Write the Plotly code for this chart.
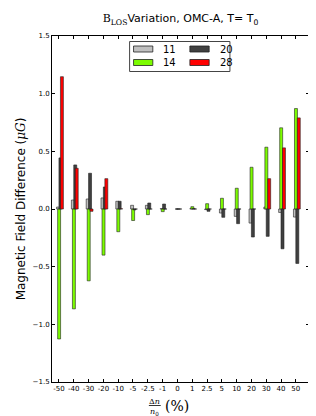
import plotly.graph_objects as go

categories = ['-50', '-40', '-30', '-20', '-10', '-5', '-2.5', '-1', '0',
              '1', '2.5', '5', '10', '20', '30', '40', '50']
series_names = ['11', '14', '20', '28']
s11 = [0.017, 0.078, 0.087, 0.096, 0.067, 0.032, 0.032, 0.003, 0.0,
       0.003, -0.005, -0.035, -0.064, -0.122, 0.017, -0.030, -0.070]
s14 = [-1.127, -0.866, -0.623, -0.400, -0.197, -0.100, -0.049, -0.023, 0.0,
       0.020, 0.046, 0.093, 0.180, 0.362, 0.536, 0.704, 0.871]
s20 = [0.443, 0.382, 0.310, 0.191, 0.067, -0.008, 0.052, 0.043, 0.0,
       0.003, -0.020, -0.072, -0.127, -0.243, -0.237, -0.345, -0.472]
s28 = [1.147, 0.353, -0.020, 0.263, 0.002, 0.0, 0.0, 0.0, 0.0,
       0.0, 0.0, 0.0, 0.0, 0.0, 0.263, 0.530, 0.790]
y_ticks = [-1.5, -1.0, -0.5, 0.0, 0.5, 1.0, 1.5]

values = [s11, s14, s20, s28]
colors = ['#c0c0c0', '#7cfc00', '#404040', '#ff0000']
offsets = [-0.16, -0.09, 0.0, 0.10]
bar_w = 0.2

W, H = 316, 416
ML, MR, MT, MB = 41, 15, 28, 42
PW, PH = W - ML - MR, H - MT - MB


def px(x):
    return (x - ML) / PW


def py(y):
    return (H - MB - y) / PH


fig = go.Figure()
for name, vals, col, off in zip(series_names, values, colors, offsets):
    fig.add_trace(go.Bar(
        x=categories, y=vals, name=name,
        marker=dict(color=col, line=dict(color='#222222', width=0.6)),
        offset=off, width=bar_w, showlegend=False,
    ))

shapes = []
annotations = []
# legend box
shapes.append(dict(type='rect', xref='paper', yref='paper',
                   x0=px(119.5), x1=px(221), y0=py(63.5), y1=py(33.5),
                   line=dict(color='#444444', width=1), fillcolor='white'))
leg_pos = [(123.5, 41), (123.5, 54.5), (180.5, 41), (180.5, 54.5)]
for name, col, (lx, ly) in zip(series_names, colors, leg_pos):
    shapes.append(dict(type='rect', xref='paper', yref='paper',
                       x0=px(lx), x1=px(lx + 19.5), y0=py(ly + 3), y1=py(ly - 3),
                       line=dict(color='#222222', width=0.8), fillcolor=col))
    annotations.append(dict(text=name, xref='paper', yref='paper',
                            x=px(lx + 28), y=py(ly), xanchor='left', yanchor='middle',
                            showarrow=False, font=dict(size=10, color='black')))

# x axis label: fraction  Δn / n0 (%)
serif = 'DejaVu Serif'
annotations.append(dict(text='Δ<i>n</i><br><i>n</i><sub>0</sub>', xref='paper', yref='paper',
                        x=px(145), y=py(398.5), xanchor='center', yanchor='middle',
                        showarrow=False, borderpad=0, align='center',
                        font=dict(size=8, family=serif, color='black')))
shapes.append(dict(type='line', xref='paper', yref='paper',
                   x0=px(139), x1=px(151), y0=py(397.5), y1=py(397.5),
                   line=dict(color='black', width=0.8)))
annotations.append(dict(text='(%)', xref='paper', yref='paper',
                        x=px(154), y=py(397.5), xanchor='left', yanchor='middle',
                        showarrow=False, borderpad=0,
                        font=dict(size=14, family=serif, color='black')))

fig.update_layout(
    width=W, height=H,
    margin=dict(l=ML, r=MR, t=MT, b=MB, pad=0),
    barmode='overlay',
    plot_bgcolor='white', paper_bgcolor='white',
    font=dict(family='DejaVu Sans', color='black'),
    title=dict(
        text="<span style='font-family:DejaVu Serif'>B<sub>LOS</sub></span>Variation, OMC-A, T= T<sub>0</sub>",
        x=0.5, xref='paper', xanchor='center',
        y=1 - 10.5 / H, yref='container', yanchor='middle',
        font=dict(size=11, color='black')),
    xaxis=dict(
        type='category', categoryorder='array', categoryarray=categories,
        tickmode='array', tickvals=categories, ticktext=categories,
        range=[-0.47, 16.89],
        showline=True, linecolor='black', linewidth=1, mirror='ticks',
        ticks='inside', ticklen=3, tickcolor='black', tickwidth=0.8,
        showgrid=False, zeroline=False,
        tickfont=dict(size=7, color='black'),
    ),
    yaxis=dict(
        range=[-1.5, 1.5], tickmode='array', tickvals=y_ticks,
        tickformat='.1f',
        showline=True, linecolor='black', linewidth=1, mirror='ticks',
        ticks='inside', ticklen=3, tickcolor='black', tickwidth=0.8,
        showgrid=False, zeroline=False,
        tickfont=dict(size=7, color='black'),
        title=dict(
            text="Magnetic Field Difference (<span style='font-family:DejaVu Serif'><i>μG</i></span>)",
            font=dict(size=12, color='black'), standoff=4),
    ),
    shapes=shapes, annotations=annotations,
)

fig.write_html('out.html')
